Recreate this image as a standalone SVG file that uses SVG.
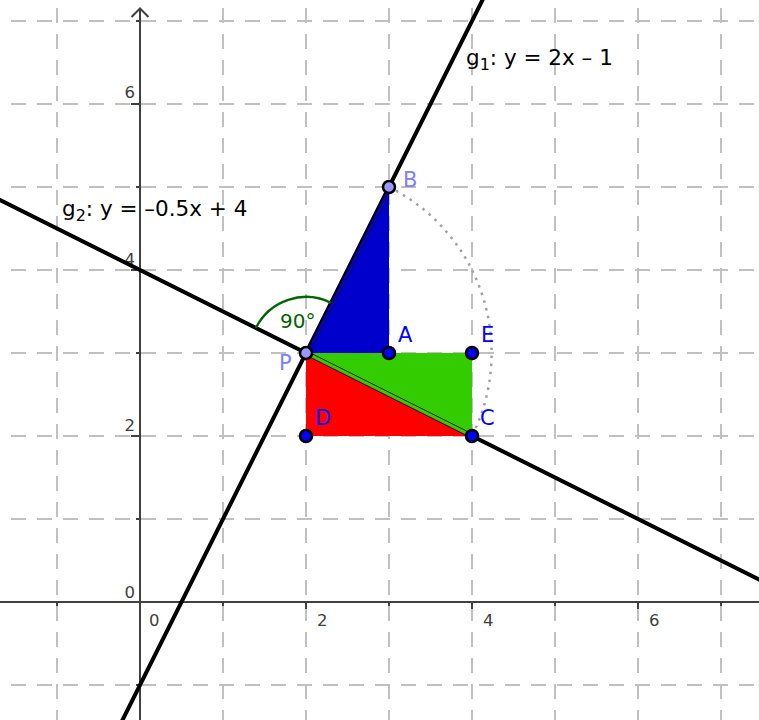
<svg xmlns="http://www.w3.org/2000/svg" width="759" height="720" viewBox="0 0 759 720">
<style>
.gh{stroke:#c0c0c0;stroke-width:2;stroke-dasharray:15 11;stroke-dashoffset:15;fill:none}
.gv{stroke:#c0c0c0;stroke-width:2;stroke-dasharray:15 11;stroke-dashoffset:18;fill:none}
.ax{stroke:#404040;stroke-width:2;fill:none}
.tk{font-family:"DejaVu Sans",sans-serif;font-size:16.5px;fill:#404040}
.ln{stroke:#000;stroke-width:4;fill:none}
.lbl{font-family:"DejaVu Sans",sans-serif;font-size:21.5px;fill:#000}
.pl{font-family:"DejaVu Sans",sans-serif;font-size:21px;fill:#0000ff}
.pl2{font-family:"DejaVu Sans",sans-serif;font-size:21px;fill:#8080ff}
.pt{fill:#0000ff;stroke:#000;stroke-width:2.5}
.pt2{fill:#9999ff;stroke:#000;stroke-width:2.5}
.thin{stroke:#1a1a1a;stroke-width:1;fill:none}
</style>
<rect width="759" height="720" fill="#fff"/>
<g id="grid">
<line class="gh" x1="0" y1="21" x2="759" y2="21"/>
<line class="gh" x1="0" y1="104" x2="759" y2="104"/>
<line class="gh" x1="0" y1="187" x2="759" y2="187"/>
<line class="gh" x1="0" y1="270" x2="759" y2="270"/>
<line class="gh" x1="0" y1="353" x2="759" y2="353"/>
<line class="gh" x1="0" y1="436" x2="759" y2="436"/>
<line class="gh" x1="0" y1="519" x2="759" y2="519"/>
<line class="gh" x1="0" y1="685" x2="759" y2="685"/>
<line class="gv" x1="57" y1="0" x2="57" y2="720"/>
<line class="gv" x1="223" y1="0" x2="223" y2="720"/>
<line class="gv" x1="306" y1="0" x2="306" y2="720"/>
<line class="gv" x1="389" y1="0" x2="389" y2="720"/>
<line class="gv" x1="472" y1="0" x2="472" y2="720"/>
<line class="gv" x1="555" y1="0" x2="555" y2="720"/>
<line class="gv" x1="638" y1="0" x2="638" y2="720"/>
<line class="gv" x1="721" y1="0" x2="721" y2="720"/>
</g>
<g id="axes">
<line class="ax" x1="0" y1="602" x2="759" y2="602"/>
<line class="ax" x1="140" y1="9" x2="140" y2="720"/>
<polyline class="ax" points="131.5,17 140,8.5 148.5,17"/>
<path class="ax" d="M306,602V609M472,602V609M638,602V609M223,602V606M389,602V606M555,602V606M721,602V606M57,602V606"/>
<path class="ax" d="M140,436H131M140,270H131M140,104H131M140,519H136M140,353H136M140,187H136M140,21H136M140,685H136"/>
<text class="tk" x="149" y="626">0</text>
<text class="tk" x="317" y="626">2</text>
<text class="tk" x="483" y="626">4</text>
<text class="tk" x="649" y="626">6</text>
<text class="tk" x="135" y="598" text-anchor="end">0</text>
<text class="tk" x="135" y="431" text-anchor="end">2</text>
<text class="tk" x="135" y="265" text-anchor="end">4</text>
<text class="tk" x="135" y="98" text-anchor="end">6</text>
</g>
<g id="connectors">
<line id="g1" class="ln" x1="15.5" y1="934" x2="555" y2="-145"/>
<line id="g2" class="ln" x1="-109" y1="145.5" x2="887" y2="643.5"/>
</g>
<g id="polyRed"><polygon points="306,353 306,436 472,436" fill="#ff0000"/></g>
<g id="polyGreen"><polygon points="306,353 472,353 472,436" fill="#33cc00"/></g>
<g id="polyBlue"><polygon points="306,353 389,187 389,353" fill="#0000cc"/></g>
<g id="segments">
<line class="thin" x1="308.2" y1="354.1" x2="390.5" y2="189.5"/>
<line x1="306" y1="353" x2="472" y2="436" stroke="#33cc00" stroke-width="3"/>
<line class="thin" x1="306.9" y1="351.2" x2="472.9" y2="434.2"/>
<line class="thin" x1="305.1" y1="354.8" x2="471.1" y2="437.8"/>
</g>
<g id="arcBC"><path d="M389,187 A185.6,185.6 0 0 1 472,436" fill="none" stroke="#a0a0a0" stroke-width="2.5" stroke-dasharray="2.5 5.5"/></g>
<g id="angle">
<path d="M255.9,328 A56,56 0 0 1 331,302.9" fill="none" stroke="#006400" stroke-width="2.5"/>
<text x="280" y="328" font-family="DejaVu Sans, sans-serif" font-size="20" fill="#006400">90°</text>
</g>
<g id="labels">
<text class="lbl" x="466" y="65">g<tspan dy="5" font-size="16">1</tspan><tspan dy="-5">: y = 2x – 1</tspan></text>
<text class="lbl" x="62" y="216">g<tspan dy="5" font-size="16">2</tspan><tspan dy="-5">: y = –0.5x + 4</tspan></text>
</g>
<g id="pointP"><circle class="pt2" cx="306" cy="353" r="6"/><text class="pl2" x="279" y="370">P</text></g>
<g id="pointB"><circle class="pt2" cx="389" cy="187" r="6"/><text class="pl2" x="403" y="187">B</text></g>
<g id="pointA"><circle class="pt" cx="389" cy="353" r="6"/><text class="pl" x="398" y="342">A</text></g>
<g id="pointE"><circle class="pt" cx="472" cy="353" r="6"/><text class="pl" x="481" y="342">E</text></g>
<g id="pointC"><circle class="pt" cx="472" cy="436" r="6"/><text class="pl" x="480" y="425">C</text></g>
<g id="pointD"><circle class="pt" cx="306" cy="436" r="6"/><text class="pl" x="315" y="425">D</text></g>
</svg>
